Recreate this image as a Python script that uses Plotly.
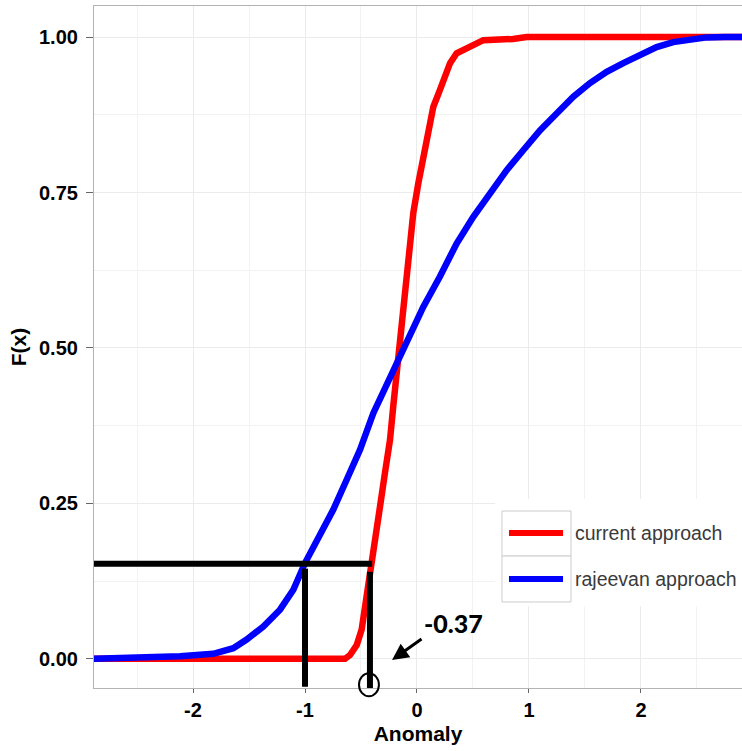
import plotly.graph_objects as go

# ---- data ----
current_x = [-2.9, -0.643, -0.598, -0.569, -0.538, -0.494, -0.449, -0.404, -0.366, -0.33, -0.286,
             -0.241, -0.212, -0.181, -0.152, -0.122, -0.092, -0.063, -0.033, 0.012, 0.056, 0.101,
             0.146, 0.205, 0.295, 0.354, 0.503, 0.592, 0.857, 0.98, 2.95]
current_y = [0, 0, 0.006, 0.012, 0.022, 0.047, 0.098, 0.148, 0.2, 0.245, 0.299,
             0.352, 0.406, 0.459, 0.51, 0.566, 0.62, 0.668, 0.717, 0.765, 0.808, 0.85,
             0.888, 0.915, 0.958, 0.974, 0.987, 0.995, 0.997, 1.0, 1.0]

rajeevan_x = [-2.9, -2.384, -2.116, -1.819, -1.64, -1.521, -1.372, -1.223, -1.104, -1.0, -0.866,
              -0.747, -0.628, -0.509, -0.39, -0.241, -0.092, 0.056, 0.205, 0.354, 0.503, 0.652,
              0.801, 0.949, 1.098, 1.247, 1.396, 1.545, 1.694, 1.842, 1.991, 2.14, 2.288, 2.438,
              2.587, 2.75, 2.95]
rajeevan_y = [0, 0.001, 0.004, 0.008, 0.017, 0.031, 0.052, 0.079, 0.111, 0.154, 0.197,
              0.240, 0.288, 0.336, 0.395, 0.454, 0.508, 0.566, 0.615, 0.668, 0.711, 0.749,
              0.786, 0.818, 0.850, 0.877, 0.904, 0.926, 0.944, 0.958, 0.971, 0.984, 0.992, 0.997,
              0.9995, 1.0, 1.0]

series_names = ["current approach", "rajeevan approach"]
series_colors = ["#ff0000", "#0000ff"]

x_ticks = [-2, -1, 0, 1, 2]
y_ticks = [0.0, 0.25, 0.5, 0.75, 1.0]
y_tick_labels = ["0.00", "0.25", "0.50", "0.75", "1.00"]

# annotation overlay values
level_y = 0.153          # horizontal reference level
marker_x = [-1.0, -0.42]  # vertical drop lines
annot_text = "-0.37"

x_range = [-2.884, 2.902]
y_range = [-0.047, 1.05]


def px_(x):
    return (x - x_range[0]) / (x_range[1] - x_range[0])


def py_(y):
    return (y - y_range[0]) / (y_range[1] - y_range[0])


fig = go.Figure()
for xs, ys, name, col in [(current_x, current_y, series_names[0], series_colors[0]),
                          (rajeevan_x, rajeevan_y, series_names[1], series_colors[1])]:
    fig.add_trace(go.Scatter(x=xs, y=ys, mode="lines", name=name,
                             line=dict(color=col, width=6.5), showlegend=False))

shapes = []
# black overlay lines
shapes.append(dict(type="line", xref="x", yref="y", x0=x_range[0], x1=marker_x[1] + 0.02,
                   y0=level_y, y1=level_y, line=dict(color="black", width=6), layer="above"))
shapes.append(dict(type="line", xref="x", yref="y", x0=marker_x[0], x1=marker_x[0],
                   y0=level_y - 0.008, y1=-0.045, line=dict(color="black", width=6), layer="above"))
shapes.append(dict(type="line", xref="x", yref="y", x0=marker_x[1], x1=marker_x[1],
                   y0=level_y - 0.013, y1=-0.047, line=dict(color="black", width=6), layer="above"))
# circle around the axis point (paper coords so it is not clipped)
cx, cy = marker_x[1] - 0.009, -0.0418
shapes.append(dict(type="circle", xref="paper", yref="paper",
                   x0=px_(cx - 0.089), x1=px_(cx + 0.089),
                   y0=py_(cy - 0.0185), y1=py_(cy + 0.0185),
                   line=dict(color="black", width=2), layer="above"))

# manual legend (ggplot style keys)
shapes.append(dict(type="rect", xref="paper", yref="paper", x0=0.619, x1=1.01, y0=0.120,
                   y1=0.277, fillcolor="white", line=dict(width=0), layer="above"))
key_rows = [(0.1935, 0.2595, 0.2273), (0.1261, 0.1935, 0.1598)]
annotations = []
for (y0, y1, ym), name, col in zip(key_rows, series_names, series_colors):
    shapes.append(dict(type="rect", xref="paper", yref="paper", x0=0.6296, x1=0.7361,
                       y0=y0, y1=y1, fillcolor="white", line=dict(color="#cccccc", width=1),
                       layer="above"))
    shapes.append(dict(type="line", xref="paper", yref="paper", x0=0.6404, x1=0.7238,
                       y0=ym, y1=ym, line=dict(color=col, width=6), layer="above"))
    annotations.append(dict(xref="paper", yref="paper", x=0.7392, y=ym, xanchor="left",
                            yanchor="middle", text=name, showarrow=False,
                            font=dict(family="Liberation Sans", size=19.5, color="#3a3a3a")))

# arrow and value label
annotations.append(dict(xref="x", yref="y", x=-0.223, y=-0.002, ax=31, ay=-22, text="",
                        showarrow=True, arrowhead=2, arrowsize=1.1, arrowwidth=3,
                        arrowcolor="black"))
annotations.append(dict(xref="x", yref="y", x=0.33, y=0.058, text=annot_text, showarrow=False,
                        font=dict(family="Lato", size=25, color="black", weight=900)))

tick_font = dict(family="Liberation Sans", size=20, color="black", weight="bold")
title_font = dict(family="Liberation Sans", size=21, color="black", weight="bold")
axis_common = dict(showgrid=True, gridcolor="#ebebeb", gridwidth=1,
                   showline=True, linecolor="#b3b3b3", linewidth=1.2, mirror=True,
                   ticks="outside", tickcolor="#666666", tickwidth=1,
                   zeroline=False, tickfont=tick_font)

fig.update_layout(
    width=742, height=751,
    margin=dict(l=94, r=0, t=6, b=63),
    plot_bgcolor="white", paper_bgcolor="white",
    shapes=shapes, annotations=annotations,
    xaxis=dict(range=x_range, tickvals=x_ticks, ticktext=[str(v) for v in x_ticks],
               ticklen=4, ticklabelstandoff=0,
               minor=dict(dtick=0.5, tick0=-2.5, showgrid=True, gridcolor="#f2f2f2", gridwidth=0.8),
               title=dict(text="Anomaly", standoff=6, font=title_font),
               **axis_common),
    yaxis=dict(range=y_range, tickvals=y_ticks, ticktext=y_tick_labels,
               ticklen=7, ticklabelstandoff=4,
               minor=dict(dtick=0.125, tick0=0.125, showgrid=True, gridcolor="#f2f2f2", gridwidth=0.8),
               title=dict(text="F(x)", standoff=6, font=title_font),
               **axis_common),
)

fig.write_html("out.html")
